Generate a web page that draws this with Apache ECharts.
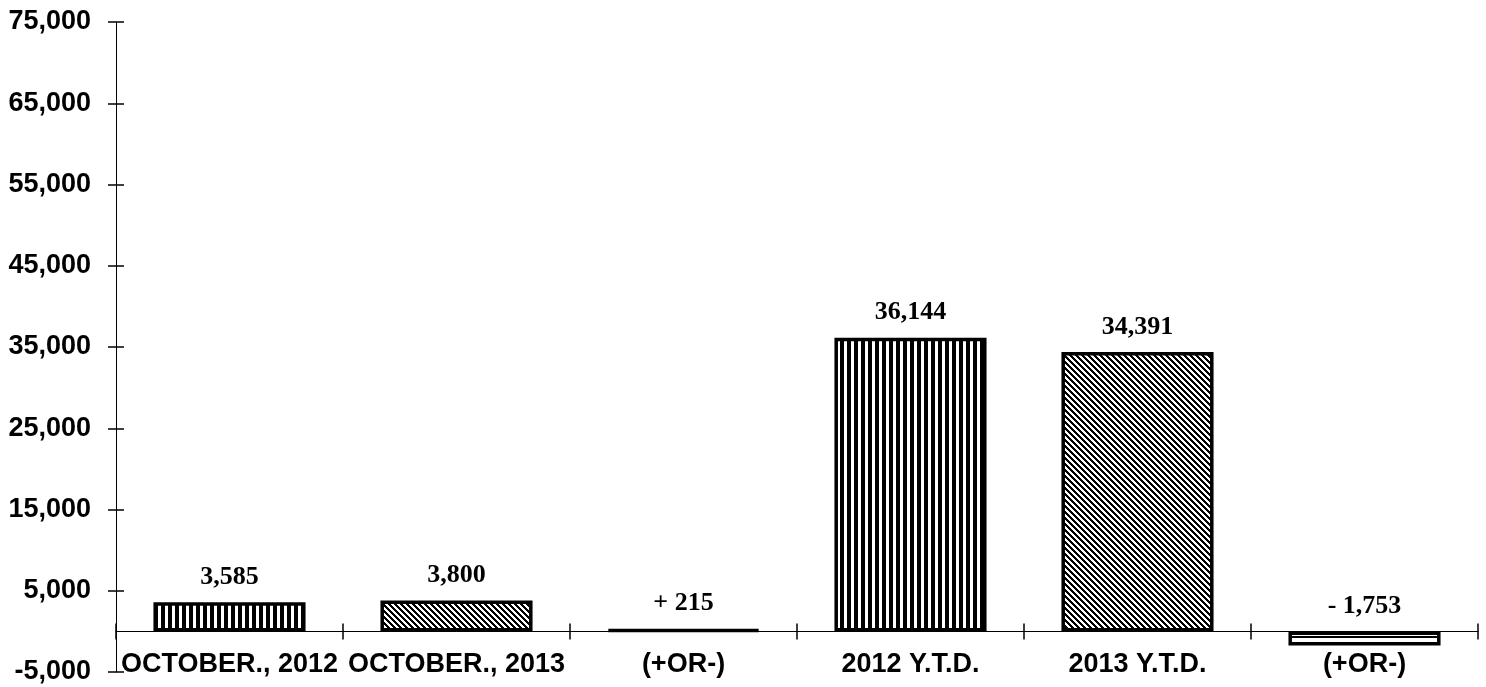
<!DOCTYPE html>
<html>
<head>
<meta charset="utf-8">
<script src="https://cdn.jsdelivr.net/npm/echarts@6/dist/echarts.min.js"></script>
<style>
html,body{margin:0;padding:0;background:#fff;}
#chart{width:1486px;height:687px;}
</style>
</head>
<body>
<div id="chart"></div>
<script>
const categories = ['OCTOBER., 2012', 'OCTOBER., 2013', '(+OR-)', '2012 Y.T.D.', '2013 Y.T.D.', '(+OR-)'];
const values = [3585, 3800, 215, 36144, 34391, -1753];
const valueLabels = ['3,585', '3,800', '+ 215', '36,144', '34,391', '- 1,753'];
const yTicks = [-5000, 5000, 15000, 25000, 35000, 45000, 55000, 65000, 75000];
const yMin = -5000, yMax = 75000;

function fmt(n) {
  const s = Math.abs(n).toString().replace(/\B(?=(\d{3})+(?!\d))/g, ',');
  return (n < 0 ? '-' : '') + s;
}

function mk(w, h, isBlack) {
  const c = document.createElement('canvas');
  c.width = w; c.height = h;
  const ctx = c.getContext('2d');
  ctx.fillStyle = '#fff'; ctx.fillRect(0, 0, w, h);
  ctx.fillStyle = '#000';
  for (let y = 0; y < h; y++) for (let x = 0; x < w; x++) if (isBlack(x, y)) ctx.fillRect(x, y, 1, 1);
  return { image: c, repeat: 'repeat' };
}
const vStripes = mk(7, 7, (x) => x < 4);
const dStripes = mk(6, 6, (x, y) => ((x - y + 12) % 6) < 3);
const hStripes = mk(1, 6, (x, y) => y < 2);
const fills = [vStripes, dStripes, '#000', vStripes, dStripes, hStripes];

const fontSans = 'Liberation Sans, Arial, sans-serif';
const tickStyle = { color: '#000', width: 1.5 };

const chart = echarts.init(document.getElementById('chart'));
chart.setOption({
  animation: false,
  backgroundColor: '#fff',
  grid: { left: 116, right: 8, top: 22, bottom: 15, containLabel: false, outerBoundsMode: 'none' },
  xAxis: [{
    type: 'category',
    data: categories,
    position: 'bottom',
    axisLine: { show: false, onZero: false },
    axisTick: { show: false },
    axisLabel: { interval: 0, margin: -21, color: '#000', fontFamily: fontSans, fontWeight: 'bold', fontSize: 27 },
    splitLine: { show: false }
  }, {
    type: 'category',
    data: categories,
    position: 'bottom',
    axisLine: { show: true, onZero: true, lineStyle: { color: '#000', width: 1 } },
    axisTick: { show: true, length: 8, lineStyle: tickStyle },
    axisLabel: { show: false },
    splitLine: { show: false }
  }, {
    type: 'category',
    data: categories,
    position: 'bottom',
    axisLine: { show: false, onZero: true },
    axisTick: { show: true, inside: true, length: 8, lineStyle: tickStyle },
    axisLabel: { show: false },
    splitLine: { show: false }
  }],
  yAxis: [{
    type: 'value',
    min: yMin, max: yMax,
    axisLine: { show: true, lineStyle: { color: '#000', width: 1 } },
    axisTick: { show: true, length: 8, customValues: yTicks, lineStyle: tickStyle },
    axisLabel: { customValues: yTicks, formatter: (v) => fmt(v), margin: 25, color: '#000', fontFamily: fontSans, fontWeight: 'bold', fontSize: 27 },
    splitLine: { show: false }
  }, {
    type: 'value',
    position: 'left',
    min: yMin, max: yMax,
    axisLine: { show: false },
    axisTick: { show: true, inside: true, length: 8, customValues: yTicks, lineStyle: tickStyle },
    axisLabel: { show: false },
    splitLine: { show: false }
  }],
  series: [{
    type: 'bar',
    xAxisIndex: 0, yAxisIndex: 0,
    barWidth: '67%',
    data: values.map((v, i) => ({ value: v, itemStyle: { color: fills[i] } })),
    itemStyle: { borderColor: '#000', borderWidth: 3.5 },
    label: {
      show: true,
      position: 'top',
      distance: 12,
      formatter: (p) => valueLabels[p.dataIndex],
      color: '#000',
      fontFamily: 'Liberation Serif, Times New Roman, serif',
      fontWeight: 'bold',
      fontSize: 26
    }
  }]
});
</script>
</body>
</html>
